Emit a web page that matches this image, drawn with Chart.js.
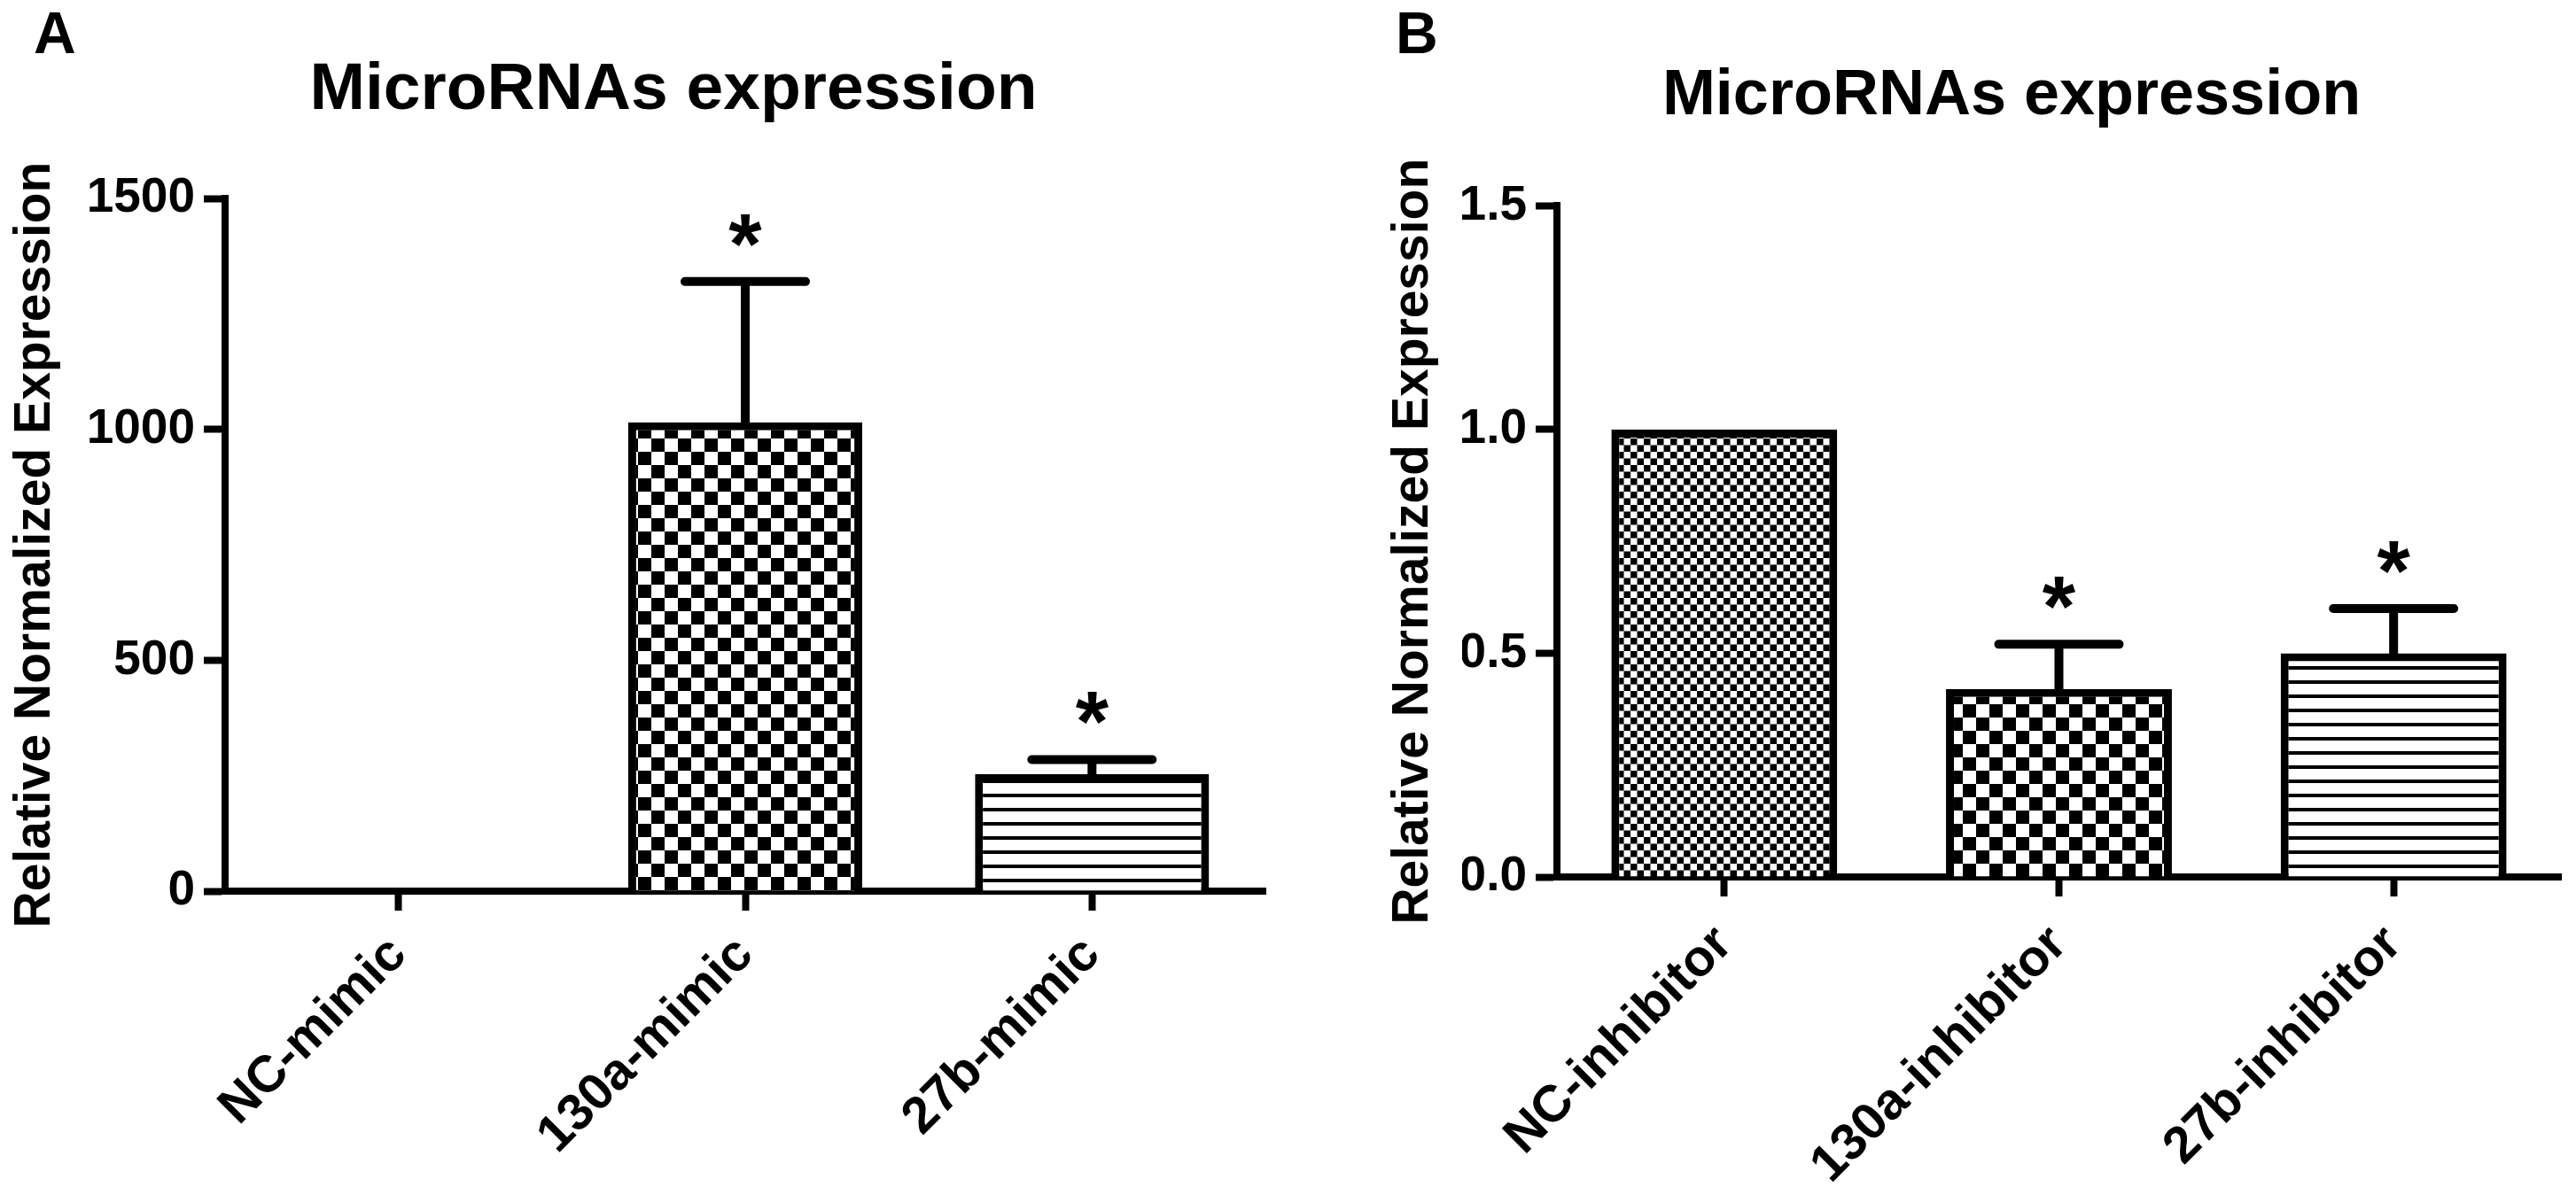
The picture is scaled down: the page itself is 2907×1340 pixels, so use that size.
<!DOCTYPE html>
<html lang="en">
<head>
    <meta charset="UTF-8">
    <title>MicroRNAs expression</title>
    <script src="https://cdn.jsdelivr.net/npm/chart.js"></script>
    <style>
        html, body {
            margin: 0;
            padding: 0;
            background: #ffffff;
            overflow: hidden;
        }
        body {
            position: relative;
            width: 2907px;
            height: 1340px;
        }
        canvas {
            position: absolute;
            top: 0;
        }
        #chartA { left: 0; }
        #chartB { left: 1450px; }
    </style>
</head>
<body>
    <canvas id="chartA" width="1450" height="1340"></canvas>
    <canvas id="chartB" width="1457" height="1340"></canvas>

    <script>
        const chartTitle = 'MicroRNAs expression';
        const yAxisTitle = 'Relative Normalized Expression';

        // panel A: mimics
        const labelsA = ['NC-mimic', '130a-mimic', '27b-mimic'];
        const valuesA = [1, 1015, 253];
        const errTopA = [1, 1320, 285];
        const starsA = ['', '*', '*'];
        const ticksA = [0, 500, 1000, 1500];

        // panel B: inhibitors
        const labelsB = ['NC-inhibitor', '130a-inhibitor', '27b-inhibitor'];
        const valuesB = [1.0, 0.42, 0.50];
        const errTopB = [1.0, 0.52, 0.60];
        const starsB = ['', '*', '*'];
        const ticksB = [0, 0.5, 1.0, 1.5];

        const FONT = '"Liberation Sans", Arial, Helvetica, sans-serif';
        Chart.defaults.font.family = FONT;
        Chart.defaults.font.weight = 'bold';
        Chart.defaults.color = '#000';

        // hatch fills like the GraphPad ones
        function makePattern(kind) {
            const c = document.createElement('canvas');
            const g = c.getContext('2d');
            if (kind === 'checker') {
                c.width = c.height = 30;
                g.fillStyle = '#fff'; g.fillRect(0, 0, 30, 30);
                g.fillStyle = '#000';
                g.fillRect(0, 0, 15, 15); g.fillRect(15, 15, 15, 15);
            } else if (kind === 'fine') {
                c.width = c.height = 15;
                g.fillStyle = '#fff'; g.fillRect(0, 0, 15, 15);
                g.fillStyle = '#000';
                g.fillRect(0, 0, 7.5, 7.5); g.fillRect(7.5, 7.5, 7.5, 7.5);
            } else {
                c.width = 8; c.height = 16;
                g.fillStyle = '#fff'; g.fillRect(0, 0, 8, 16);
                g.fillStyle = '#000'; g.fillRect(0, 0, 8, 4);
            }
            return g.createPattern(c, 'repeat');
        }
        const fills = [makePattern('fine'), makePattern('checker'), makePattern('lines')];

        // upper error whisker, asterisk and panel letter
        const errorBars = {
            id: 'errorBars',
            afterDatasetsDraw(chart, args, opts) {
                const ctx = chart.ctx;
                const y = chart.scales.y;
                const vals = chart.data.datasets[0].data;
                ctx.save();
                ctx.strokeStyle = '#000';
                ctx.fillStyle = '#000';
                ctx.lineWidth = 10;
                ctx.lineCap = 'round';
                chart.getDatasetMeta(0).data.forEach((bar, i) => {
                    const yTop = y.getPixelForValue(vals[i]);
                    const yErr = y.getPixelForValue(opts.tops[i]);
                    if (opts.tops[i] > vals[i]) {
                        ctx.beginPath();
                        ctx.moveTo(bar.x, yTop);
                        ctx.lineTo(bar.x, yErr);
                        ctx.moveTo(bar.x - 68, yErr);
                        ctx.lineTo(bar.x + 68, yErr);
                        ctx.stroke();
                    }
                    if (opts.stars[i]) {
                        ctx.font = 'bold 96px ' + FONT;
                        ctx.textAlign = 'center';
                        ctx.textBaseline = 'alphabetic';
                        ctx.fillText(opts.stars[i], bar.x, yErr - 63 + 53);
                    }
                });
                ctx.font = 'bold 66px ' + FONT;
                ctx.textAlign = 'left';
                ctx.textBaseline = 'alphabetic';
                ctx.fillText(opts.letter, opts.letterX, 60);
                ctx.restore();
            }
        };

        function buildChart(id, cfg) {
            return new Chart(document.getElementById(id), {
                type: 'bar',
                data: {
                    labels: cfg.labels,
                    datasets: [{
                        data: cfg.values,
                        backgroundColor: fills,
                        borderColor: '#000',
                        borderWidth: 9,
                        borderSkipped: 'start',
                        barPercentage: 1,
                        categoryPercentage: 0.675
                    }]
                },
                options: {
                    responsive: false,
                    animation: false,
                    devicePixelRatio: 1,
                    layout: { padding: { left: cfg.padLeft, right: cfg.padRight, top: 0, bottom: 0 } },
                    plugins: {
                        legend: { display: false },
                        tooltip: { enabled: false },
                        title: {
                            display: true,
                            text: chartTitle,
                            color: '#000',
                            font: { size: cfg.titleSize, weight: 'bold', lineHeight: 1.2 },
                            padding: { top: cfg.titleTop, bottom: cfg.titleBottom }
                        },
                        errorBars: { tops: cfg.errTop, stars: cfg.stars, letter: cfg.letter, letterX: cfg.letterX }
                    },
                    scales: {
                        x: {
                            grid: { drawOnChartArea: false, offset: false, tickLength: 22, tickWidth: 8, tickColor: '#000' },
                            border: { color: '#000', width: 8 },
                            ticks: {
                                color: '#000',
                                font: { size: 58, weight: 'bold' },
                                minRotation: 45,
                                maxRotation: 45,
                                autoSkip: false,
                                padding: cfg.xPad
                            },
                            afterFit: s => { s.height = cfg.xHeight; }
                        },
                        y: {
                            min: 0,
                            max: cfg.ticks[cfg.ticks.length - 1],
                            afterBuildTicks: s => { s.ticks = cfg.ticks.map(v => ({ value: v })); },
                            grid: { drawOnChartArea: false, tickLength: 24, tickWidth: 8, tickColor: '#000' },
                            border: { color: '#000', width: 8 },
                            ticks: {
                                color: '#000',
                                font: { size: 55, weight: 'bold' },
                                padding: 10,
                                callback: cfg.fmt
                            },
                            title: {
                                display: true,
                                text: yAxisTitle,
                                color: '#000',
                                font: { size: 57, weight: 'bold', lineHeight: 1.2 },
                                padding: { top: cfg.yTitlePad, bottom: 0 }
                            },
                            afterFit: s => { s.width = cfg.yWidth; }
                        }
                    }
                },
                plugins: [errorBars]
            });
        }

        buildChart('chartA', {
            labels: labelsA, values: valuesA, errTop: errTopA, stars: starsA, ticks: ticksA,
            fmt: v => String(v),
            letter: 'A', letterX: 38,
            padLeft: 92, padRight: 22, yWidth: 162, xHeight: 334,
            titleSize: 75, titleTop: 57, titleBottom: 77,
            yTitlePad: -86, xPad: 16
        });

        buildChart('chartB', {
            labels: labelsB, values: valuesB, errTop: errTopB, stars: starsB, ticks: ticksB,
            fmt: v => v.toFixed(1),
            letter: 'B', letterX: 125,
            padLeft: 200, padRight: 17, yWidth: 107, xHeight: 350,
            titleSize: 72, titleTop: 66, titleBottom: 80,
            yTitlePad: -89, xPad: 20
        });
    </script>
</body>
</html>
